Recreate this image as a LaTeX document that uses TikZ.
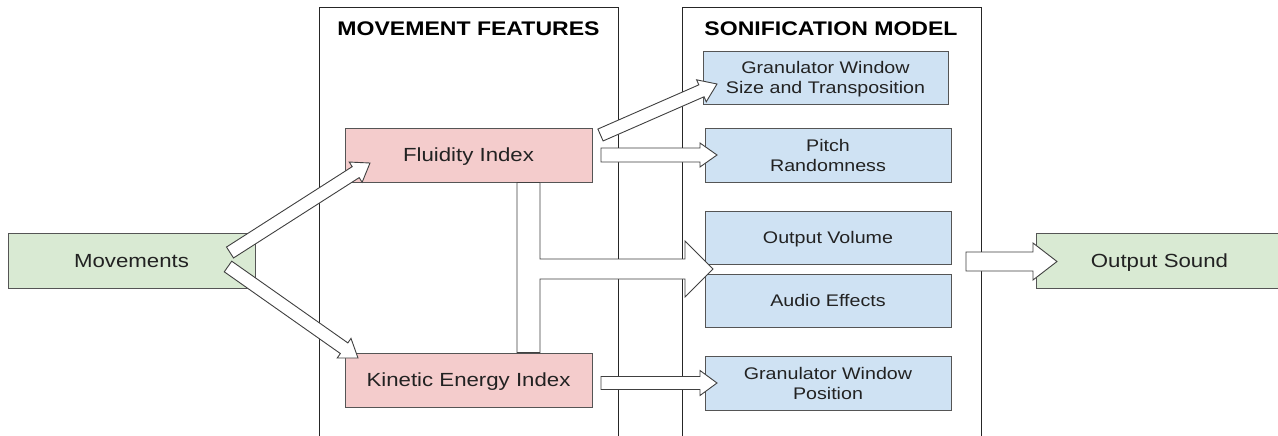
\documentclass[tikz,border=0pt]{standalone}
\usepackage{fontspec}
\setmainfont[FakeStretch=1.17]{Liberation Sans}
\usetikzlibrary{calc}
\definecolor{pinkf}{HTML}{F4CCCC}
\definecolor{bluef}{HTML}{CFE2F3}
\definecolor{greenf}{HTML}{D9EAD3}
\definecolor{edgec}{HTML}{555555}
\definecolor{txtc}{HTML}{222222}
% block arrow: #1 tail, #2 tip, #3 shaft half width, #4 head half width, #5 head length
\newcommand\blockarrow[5]{%
  \coordinate (ba-base) at ($(#2)!#5!(#1)$);
  \draw[arrowshape] ($(#1)!#3!90:(#2)$) -- ($(ba-base)!#3!90:(#2)$) -- ($(ba-base)!#4!90:(#2)$)
    -- (#2) -- ($(ba-base)!#4!-90:(#2)$) -- ($(ba-base)!#3!-90:(#2)$) -- ($(#1)!#3!-90:(#2)$) -- cycle;
}
\begin{document}
\begin{tikzpicture}[x=1pt,y=-1pt,
  panel/.style={draw=black!85, line width=0.9pt},
  ttl/.style={font=\fontsize{19.7}{23}\selectfont\bfseries, text=black, anchor=base, inner sep=0pt},
  boxbase/.style={draw=edgec, line width=0.9pt, inner sep=0pt, text=txtc, align=center},
  bigtext/.style={font=\fontsize{19}{23}\selectfont, text height=13.7pt, text depth=0pt},
  smalltext/.style={font=\fontsize{16.8}{20}\selectfont},
  smallone/.style={font=\fontsize{16.8}{20}\selectfont, text height=12.1pt, text depth=0pt},
  greenbox/.style={boxbase, bigtext, fill=greenf, minimum width=247pt, minimum height=55pt},
  pinkbox/.style={boxbase, bigtext, fill=pinkf, minimum width=247pt, minimum height=54pt},
  bluebox/.style={boxbase, smalltext, fill=bluef, minimum width=246pt, minimum height=53pt},
  arrowshape/.style={draw=black!75, line width=0.9pt, fill=white, line join=miter}
]
\useasboundingbox (0,0) rectangle (1278,436);
\fill[white] (0,0) rectangle (1278,436);

% panels
\draw[panel] (319,440) -- (319,7) -- (618,7) -- (618,440);
\draw[panel] (682,440) -- (682,7) -- (981,7) -- (981,440);
\node[ttl] (ttlA) at (468.5,35.5) {MOVEMENT FEATURES};
\node[ttl] (ttlB) at (831,35.5) {SONIFICATION MODEL};

% boxes
\node[greenbox] (mov) at (131.5,260.5) {Movements};
\node[greenbox] (outs) at (1159.5,261) {Output Sound};
\node[pinkbox] (fl) at (468.5,155) {Fluidity Index};
\node[pinkbox] (ke) at (468.5,380) {Kinetic Energy Index};
\node[bluebox, minimum width=245pt] (g1) at (825.5,77.5) {};
\node[smalltext, text=txtc, align=center, inner sep=0pt, anchor=base] (g1t) at ($(g1.center)+(0,16)$) {Granulator Window\\Size and Transposition};
\node[bluebox, minimum height=54pt] (pr) at (828,155) {Pitch\\Randomness};
\node[bluebox, smallone] (ov) at (828,237.5) {Output Volume};
\node[bluebox, smallone] (ae) at (828,300.5) {Audio Effects};
\node[bluebox, minimum height=54pt] (gp) at (828,383) {Granulator Window\\Position};

% arrow end points
\coordinate (a1s) at (230,252.5);
\coordinate (a1t) at (370,163);
\coordinate (a2s) at (228,266.5);
\coordinate (a2t) at (358,358);
\coordinate (a3s) at (600.5,135);
\coordinate (a3t) at (717,84);
\coordinate (a4s) at (601,155);
\coordinate (a4t) at (717,155);
\coordinate (a6s) at (601,383);
\coordinate (a6t) at (717,383);
\coordinate (a7s) at (966,261.5);
\coordinate (a7t) at (1057,261.5);

\blockarrow{a1s}{a1t}{6.5pt}{12pt}{17pt}
\blockarrow{a2s}{a2t}{6.5pt}{12pt}{17pt}
\blockarrow{a3s}{a3t}{6.5pt}{12pt}{17pt}
\blockarrow{a4s}{a4t}{7pt}{12pt}{17pt}
\blockarrow{a6s}{a6t}{6.5pt}{12.5pt}{17pt}
\blockarrow{a7s}{a7t}{9.5pt}{18.5pt}{24pt}

% merged T-shaped arrow from Fluidity and Kinetic Energy to Output Volume / Audio Effects
\coordinate (tTip) at (713,269);
\draw[arrowshape] (517,0 |- fl.south) -- (540,0 |- fl.south) -- (540,259) -- (685,259) -- (685,241)
  -- (tTip) -- (685,297) -- (685,279) -- (540,279) -- (540,0 |- ke.north) -- (517,0 |- ke.north) -- cycle;
\end{tikzpicture}
\end{document}
